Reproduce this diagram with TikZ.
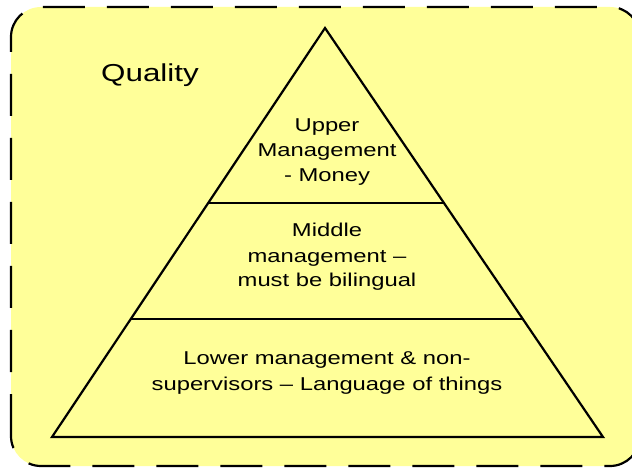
\documentclass[tikz,border=0pt]{standalone}
\usepackage{fontspec}
\setmainfont{Liberation Sans}[FakeStretch=1.28]
\usetikzlibrary{calc}
\definecolor{panel}{HTML}{FFFF99}
\tikzset{
  frame/.style={draw=black, fill=panel, line width=2.2pt, dash pattern=on 42pt off 22pt, rounded corners=30pt},
  pyr/.style={draw=black, line width=2.2pt, line join=miter},
  tier/.style={align=center, inner sep=0pt, anchor=base, font=\fontsize{18.6}{25}\selectfont},
  title/.style={inner sep=0pt, anchor=base west, font=\fontsize{24.5}{28}\selectfont}
}
\begin{document}
\begin{tikzpicture}[x=1pt,y=1pt]
\useasboundingbox (0,0) rectangle (632,469);
\path[frame] (11,3) rectangle (640,462);
\coordinate (apex) at (325,441);
\coordinate (bl) at (52,32);
\coordinate (br) at (603,32);
\coordinate (l1) at ($(apex)!0.4279!(bl)$);
\coordinate (r1) at ($(apex)!0.4279!(br)$);
\coordinate (l2) at ($(apex)!0.7115!(bl)$);
\coordinate (r2) at ($(apex)!0.7115!(br)$);
\draw[pyr] (apex) -- (bl) -- (br) -- cycle;
\draw[pyr] (l1) -- (r1);
\draw[pyr] (l2) -- (r2);
\node[title] (q) at (101,387) {Quality};
\node[tier] (up) at (327,287) {Upper\\Management\\- Money};
\node[tier] (mid) at (327,182) {Middle\\management –\\must be bilingual};
\node[tier] (low) at (327,79) {Lower management \& non-\\supervisors – Language of things};
\end{tikzpicture}
\end{document}
